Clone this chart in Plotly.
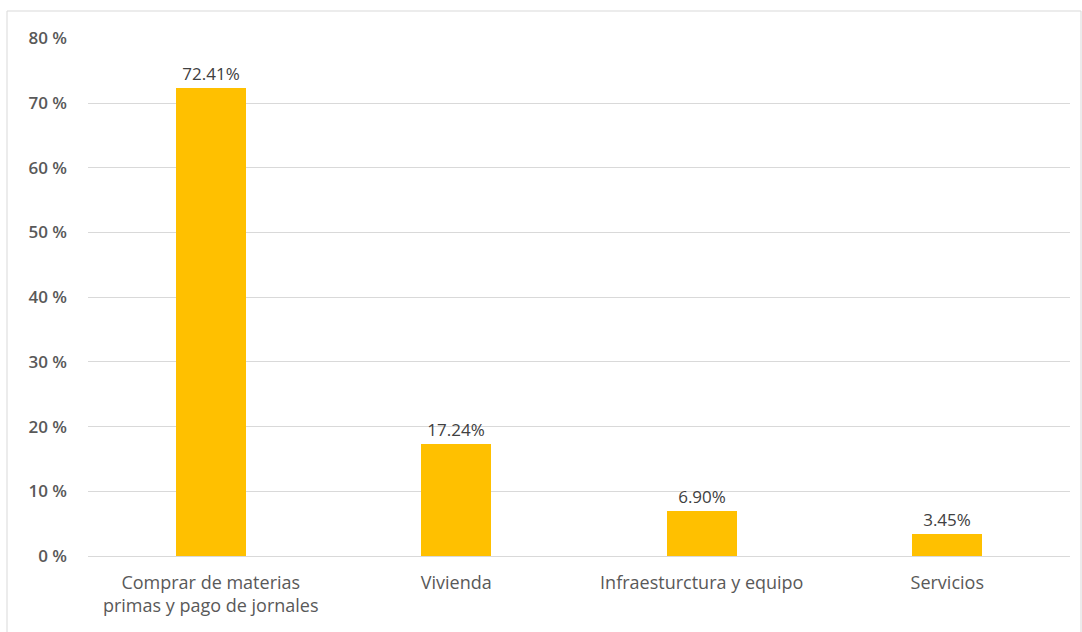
import plotly.graph_objects as go

categories = ["Comprar de materias<br>primas y pago de jornales", "Vivienda",
              "Infraesturctura y equipo", "Servicios"]
values = [72.41, 17.24, 6.90, 3.45]
y_ticks = [0, 10, 20, 30, 40, 50, 60, 70, 80]
y_tick_labels = [f"{v} %" for v in y_ticks]

FONT = "'Open Sans', Lato, 'Liberation Sans', sans-serif"

fig = go.Figure()
fig.add_trace(go.Bar(
    x=categories, y=values,
    marker=dict(color="#FFC000", line=dict(width=0)),
    width=0.285,
    text=[f"{v:.2f}%" for v in values],
    textposition="outside",
    cliponaxis=False,
    textfont=dict(family=FONT, size=17, color="#404040"),
))

L, R, T, B = 88, 12, 38, 76
W, H = 1082, 632
pw, ph = W - L - R, H - T - B

fig.update_layout(
    width=W, height=H,
    margin=dict(l=L, r=R, t=T, b=B),
    paper_bgcolor="white", plot_bgcolor="white",
    showlegend=False,
    bargap=0,
    font=dict(family=FONT, size=17, color="#595959"),
    xaxis=dict(showgrid=False, showline=False, ticks="",
               ticklabelstandoff=14,
               tickfont=dict(family=FONT, size=18, color="#595959")),
    yaxis=dict(range=[0, 80.06], tickmode="array", tickvals=y_ticks,
               ticktext=y_tick_labels,
               showgrid=True, gridcolor="#d9d9d9", gridwidth=1,
               zeroline=True, zerolinecolor="#d9d9d9", zerolinewidth=1,
               showline=False, ticks="", ticklen=0,
               ticklabelstandoff=20,
               tickfont=dict(family=FONT, size=17, color="#595959", weight=600),
               ),
    shapes=[dict(type="rect", xref="paper", yref="paper",
                 x0=(7 - L) / pw, x1=(1081 - L) / pw,
                 y0=(H - B - 660) / ph, y1=(H - B - 11) / ph,
                 line=dict(color="#d9d9d9", width=1), fillcolor="rgba(0,0,0,0)",
                 layer="below")],
)

fig.write_html("out.html")
